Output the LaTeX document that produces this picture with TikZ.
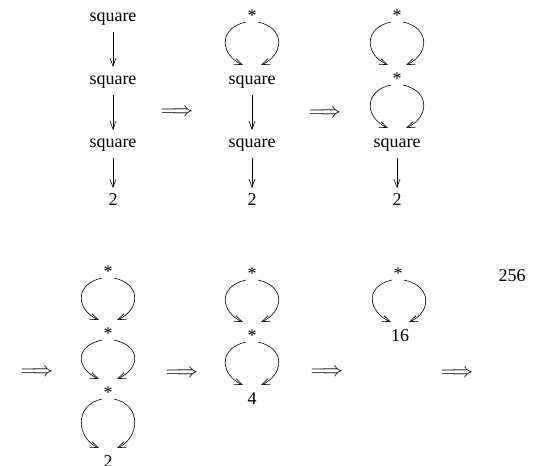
\documentclass[tikz,border=0pt]{standalone}
\usepackage{fontspec}
\setmainfont{Liberation Serif}
\usetikzlibrary{arrows.meta,calc}
\newcommand\curvepair[2]{%
  \draw[arr] ($(#1.base)+(-6,1)$) .. controls ($(#1.base)+(-34,7)$) and ($(#2.base)+(-32,-29)$) .. ($(#2.base)+(-9,-19)$);
  \draw[arr] ($(#1.base)+(6,1)$) .. controls ($(#1.base)+(34,7)$) and ($(#2.base)+(32,-29)$) .. ($(#2.base)+(9,-19)$);}
\newcommand\vlink[2]{\draw[arr] ($(#1.base)+(0,11)$) -- ($(#2.base)+(0,-17)$);}
\begin{document}
\begin{tikzpicture}[x=1pt,y=-1pt,
  lbl/.style={anchor=base,inner sep=0pt,font=\fontsize{18}{21}\selectfont},
  dbl/.style={anchor=center,inner sep=0pt,font=\fontsize{20}{24}\selectfont},
  arr/.style={-{Straight Barb[length=8pt,width=6pt]},line width=0.6pt}]
\useasboundingbox (0,0) rectangle (536,466);
% top row, column 1
\node[lbl] (a1) at (113,21) {square};
\node[lbl] (a2) at (113,84) {square};
\node[lbl] (a3) at (113,147) {square};
\node[lbl] (a4) at (113,205) {2};
\vlink{a1}{a2}\vlink{a2}{a3}\vlink{a3}{a4}
\node[dbl] (t1) at (177,113) {$\Longrightarrow$};
% column 2
\node[lbl] (b1) at (252,21) {*};
\node[lbl] (b2) at (252,84) {square};
\node[lbl] (b3) at (252,147) {square};
\node[lbl] (b4) at (252,205) {2};
\curvepair{b1}{b2}\vlink{b2}{b3}\vlink{b3}{b4}
\node[dbl] (t2) at (325,114) {$\Longrightarrow$};
% column 3
\node[lbl] (c1) at (397,21) {*};
\node[lbl] (c2) at (397,84) {*};
\node[lbl] (c3) at (397,147) {square};
\node[lbl] (c4) at (397,205) {2};
\curvepair{c1}{c2}\curvepair{c2}{c3}\vlink{c3}{c4}
% bottom row
\node[dbl] (t3) at (37,373) {$\Longrightarrow$};
\node[lbl] (d1) at (108,277) {*};
\node[lbl] (d2) at (108,339) {*};
\node[lbl] (d3) at (108,398) {*};
\node[lbl] (d4) at (108,467) {2};
\curvepair{d1}{d2}\curvepair{d2}{d3}\curvepair{d3}{d4}
\node[dbl] (t4) at (182,374) {$\Longrightarrow$};
\node[lbl] (e1) at (252,279) {*};
\node[lbl] (e2) at (252,341) {*};
\node[lbl] (e3) at (252,404) {4};
\curvepair{e1}{e2}\curvepair{e2}{e3}
\node[dbl] (t5) at (327,373) {$\Longrightarrow$};
\node[lbl] (f1) at (398,279) {*};
\node[lbl] (f2) at (400,341) {16};
\curvepair{f1}{f2}
\node[dbl] (t6) at (457,374) {$\Longrightarrow$};
\node[lbl] (g1) at (512,281) {256};
\end{tikzpicture}
\end{document}
